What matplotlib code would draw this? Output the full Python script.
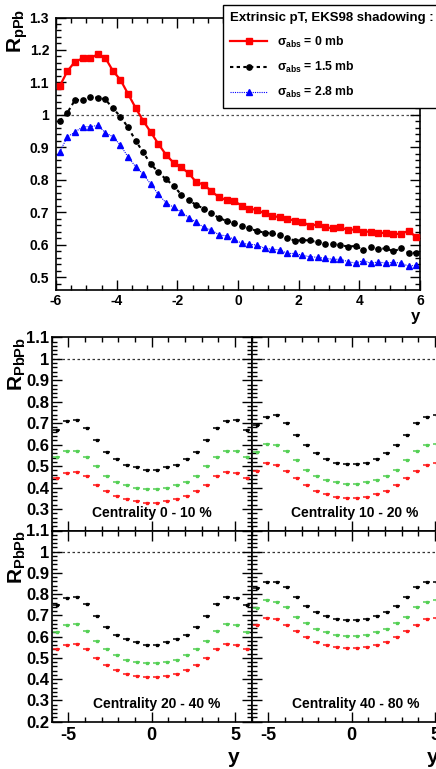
import matplotlib
matplotlib.use("Agg")
import matplotlib.pyplot as plt
from matplotlib.ticker import MultipleLocator, FuncFormatter

plt.rcParams['font.family'] = ['Liberation Sans', 'DejaVu Sans']
plt.rcParams['font.weight'] = 'bold'
plt.rcParams['mathtext.fontset'] = 'custom'
plt.rcParams['mathtext.rm'] = 'Liberation Sans:bold'
plt.rcParams['mathtext.it'] = 'Liberation Sans:bold'
plt.rcParams['mathtext.bf'] = 'Liberation Sans:bold'
plt.rcParams['mathtext.sf'] = 'Liberation Sans:bold'

# ---------------- data: p-Pb panel ----------------
rap_ppb = [-5.875, -5.625, -5.375, -5.125, -4.875, -4.625, -4.375, -4.125,
           -3.875, -3.625, -3.375, -3.125, -2.875, -2.625, -2.375, -2.125,
           -1.875, -1.625, -1.375, -1.125, -0.875, -0.625, -0.375, -0.125,
           0.125, 0.375, 0.625, 0.875, 1.125, 1.375, 1.625, 1.875,
           2.125, 2.375, 2.625, 2.875, 3.125, 3.375, 3.625, 3.875,
           4.125, 4.375, 4.625, 4.875, 5.125, 5.375, 5.625, 5.875]
rppb_sig0 = [1.089, 1.135, 1.164, 1.174, 1.174, 1.187, 1.176, 1.136, 1.108, 1.065,
             1.022, 0.982, 0.947, 0.911, 0.878, 0.853, 0.839, 0.821, 0.793, 0.786,
             0.765, 0.747, 0.738, 0.735, 0.721, 0.712, 0.708, 0.697, 0.690, 0.685,
             0.680, 0.675, 0.672, 0.658, 0.664, 0.655, 0.651, 0.654, 0.646, 0.648,
             0.641, 0.641, 0.637, 0.637, 0.634, 0.634, 0.644, 0.624]
rppb_sig15 = [0.982, 1.007, 1.046, 1.046, 1.055, 1.053, 1.048, 1.021, 0.995, 0.962,
              0.921, 0.885, 0.849, 0.824, 0.802, 0.783, 0.755, 0.738, 0.723, 0.712,
              0.697, 0.683, 0.674, 0.668, 0.658, 0.651, 0.643, 0.638, 0.636, 0.630,
              0.622, 0.613, 0.615, 0.614, 0.608, 0.603, 0.603, 0.600, 0.595, 0.597,
              0.585, 0.593, 0.587, 0.590, 0.580, 0.590, 0.576, 0.576]
rppb_sig28 = [0.887, 0.933, 0.947, 0.964, 0.964, 0.968, 0.946, 0.933, 0.907, 0.871,
              0.841, 0.818, 0.787, 0.756, 0.730, 0.716, 0.702, 0.684, 0.670, 0.654,
              0.646, 0.631, 0.628, 0.617, 0.605, 0.602, 0.600, 0.590, 0.587, 0.585,
              0.574, 0.574, 0.568, 0.564, 0.562, 0.559, 0.556, 0.556, 0.549, 0.544,
              0.552, 0.544, 0.548, 0.544, 0.547, 0.544, 0.535, 0.538]
legend_title = "Extrinsic pT, EKS98 shadowing :"
legend_labels = [r"$\sigma_{abs}$ = 0 mb", r"$\sigma_{abs}$ = 1.5 mb", r"$\sigma_{abs}$ = 2.8 mb"]

# ---------------- data: Pb-Pb panels ----------------
rap_pbpb = [-5.7, -5.1, -4.5, -3.9, -3.3, -2.7, -2.1, -1.5, -0.9, -0.3,
            0.3, 0.9, 1.5, 2.1, 2.7, 3.3, 3.9, 4.5, 5.1, 5.7]
centrality_labels = ["Centrality 0 - 10 %", "Centrality 10 - 20 %",
                     "Centrality 20 - 40 %", "Centrality 40 - 80 %"]
c0_10_black = [0.669, 0.708, 0.713, 0.677, 0.622, 0.567, 0.533, 0.507, 0.494, 0.483,
               0.483, 0.494, 0.507, 0.533, 0.567, 0.622, 0.677, 0.708, 0.713, 0.669]
c0_10_green = [0.541, 0.569, 0.570, 0.541, 0.499, 0.455, 0.428, 0.413, 0.400, 0.393,
               0.393, 0.400, 0.413, 0.428, 0.455, 0.499, 0.541, 0.570, 0.569, 0.541]
c0_10_red = [0.444, 0.470, 0.474, 0.452, 0.413, 0.382, 0.361, 0.346, 0.338, 0.330,
             0.330, 0.338, 0.346, 0.361, 0.382, 0.413, 0.452, 0.474, 0.470, 0.444]
c10_20_black = [0.692, 0.730, 0.736, 0.703, 0.647, 0.596, 0.560, 0.533, 0.514, 0.510,
                0.510, 0.514, 0.533, 0.560, 0.596, 0.647, 0.703, 0.730, 0.736, 0.692]
c10_20_green = [0.564, 0.602, 0.599, 0.572, 0.529, 0.484, 0.455, 0.435, 0.424, 0.416,
                0.416, 0.424, 0.435, 0.455, 0.484, 0.529, 0.572, 0.599, 0.602, 0.564]
c10_20_red = [0.479, 0.513, 0.505, 0.479, 0.444, 0.411, 0.385, 0.369, 0.358, 0.353,
              0.353, 0.358, 0.369, 0.385, 0.411, 0.444, 0.479, 0.505, 0.513, 0.479]
c20_40_black = [0.749, 0.783, 0.786, 0.753, 0.697, 0.645, 0.607, 0.587, 0.573, 0.562,
                0.563, 0.574, 0.587, 0.607, 0.645, 0.697, 0.753, 0.786, 0.783, 0.749]
c20_40_green = [0.623, 0.654, 0.659, 0.626, 0.580, 0.542, 0.514, 0.492, 0.483, 0.475,
                0.475, 0.483, 0.492, 0.514, 0.542, 0.580, 0.626, 0.659, 0.654, 0.623]
c20_40_red = [0.540, 0.561, 0.564, 0.540, 0.502, 0.469, 0.442, 0.426, 0.417, 0.412,
              0.412, 0.417, 0.426, 0.442, 0.469, 0.502, 0.540, 0.564, 0.561, 0.540]
c40_80_black = [0.827, 0.856, 0.857, 0.833, 0.785, 0.745, 0.717, 0.697, 0.683, 0.681,
                0.681, 0.683, 0.697, 0.717, 0.745, 0.785, 0.833, 0.857, 0.856, 0.827]
c40_80_green = [0.736, 0.772, 0.763, 0.739, 0.693, 0.664, 0.637, 0.620, 0.607, 0.602,
                0.602, 0.607, 0.620, 0.637, 0.664, 0.693, 0.739, 0.763, 0.772, 0.736]
c40_80_red = [0.653, 0.689, 0.684, 0.654, 0.629, 0.598, 0.574, 0.560, 0.550, 0.546,
              0.546, 0.550, 0.560, 0.574, 0.598, 0.629, 0.654, 0.684, 0.689, 0.653]

W, H = 436, 769
fig = plt.figure(figsize=(W / 100, H / 100), dpi=100)


def fx(px):
    return px / W


def fy(py):
    return 1 - py / H


gfmt = FuncFormatter(lambda v, p: "%g" % round(v, 3))

# ---------------- top panel ----------------
ax = fig.add_axes([fx(56), fy(290), fx(420 - 56), (290 - 17.5) / H])
ax.set_xlim(-6, 6)
ax.set_ylim(0.4615, 1.3)
ax.axhline(1.0, color='0.3', lw=0.9, ls=(0, (2, 2)), zorder=1)
l1, = ax.plot(rap_ppb, rppb_sig0, color='#ff0000', lw=1.6, marker='s', ms=4.4,
              mec='#ff0000', label=legend_labels[0], zorder=4)
l2, = ax.plot(rap_ppb, rppb_sig15, color='black', lw=1.5, ls=(0, (1.6, 1.6)),
              marker='o', ms=3.8, label=legend_labels[1], zorder=3)
l3, = ax.plot(rap_ppb, rppb_sig28, color='#0000ff', lw=0.8, ls=(0, (1, 1)),
              marker='^', ms=3.8, label=legend_labels[2], zorder=2)
ax.xaxis.set_major_locator(MultipleLocator(2))
ax.xaxis.set_minor_locator(MultipleLocator(0.5))
ax.yaxis.set_major_locator(MultipleLocator(0.1))
ax.yaxis.set_minor_locator(MultipleLocator(0.02))
ax.yaxis.set_major_formatter(gfmt)
ax.xaxis.set_major_formatter(gfmt)
ax.tick_params(which='both', direction='in', top=True, right=True, width=1)
ax.tick_params(which='major', length=7, labelsize=10)
ax.tick_params(which='minor', length=3.5)
ax.tick_params(axis='y', pad=5)
ax.tick_params(axis='x', pad=3)
for s in ax.spines.values():
    s.set_linewidth(1.2)
fig.text(fx(415), fy(316), "y", ha='center', va='center', fontsize=12, fontweight='bold')
fig.text(fx(17.5), fy(9), r"R$_{pPb}$", rotation=90, ha='center', va='top', fontsize=15)

leg = fig.legend(handles=[l1, l2, l3], title=legend_title, loc='upper left',
                 bbox_to_anchor=(fx(223), fy(5)), borderaxespad=0, fontsize=8.8,
                 title_fontsize=9.5, frameon=True, fancybox=False, edgecolor='black',
                 framealpha=1, handlelength=3.0, handletextpad=0.8, labelspacing=0.84,
                 borderpad=0.6, alignment='left', numpoints=1)
leg.get_frame().set_linewidth(1.0)
leg.get_title().set_fontweight('bold')

# ---------------- Pb-Pb panels ----------------
panels = [
    (c0_10_black, c0_10_green, c0_10_red),
    (c10_20_black, c10_20_green, c10_20_red),
    (c20_40_black, c20_40_green, c20_40_red),
    (c40_80_black, c40_80_green, c40_80_red),
]
left_px = [51.7, 251.7]
rows = [(337.3, 530.5), (530.5, 721.7)]
text_x = [0.0, 0.15, 0.3, 0.25]
colors = ['black', '#55d055', '#ff1a1a']

for i, (blk, grn, red) in enumerate(panels):
    r, c = divmod(i, 2)
    top, bot = rows[r]
    a = fig.add_axes([fx(left_px[c]), fy(bot), fx(200), (bot - top) / H])
    a.set_xlim(-6, 6)
    a.set_ylim(0.2, 1.1)
    a.axhline(1.0, color='0.2', lw=0.9, ls=(0, (2, 2)), zorder=1)
    for vals, col in zip((blk, grn, red), colors):
        a.errorbar(rap_pbpb, vals, xerr=0.22, fmt='s', color=col, ms=2.0,
                   elinewidth=1.1, capsize=0, zorder=3)
    a.xaxis.set_major_locator(MultipleLocator(5))
    a.xaxis.set_minor_locator(MultipleLocator(1))
    a.yaxis.set_major_locator(MultipleLocator(0.1))
    a.yaxis.set_minor_locator(MultipleLocator(0.02))
    a.yaxis.set_major_formatter(gfmt)
    a.xaxis.set_major_formatter(gfmt)
    a.tick_params(which='both', direction='in', top=True, right=True, width=1)
    a.tick_params(which='major', length=7)
    a.tick_params(which='minor', length=3.5)
    a.tick_params(axis='y', labelsize=12, pad=1.5)
    a.tick_params(axis='x', labelsize=13, pad=3.5)
    for s in a.spines.values():
        s.set_linewidth(1.2)
    if c == 1:
        a.tick_params(axis='y', labelleft=False)
    if r == 0:
        a.tick_params(axis='x', labelbottom=False)
        if c == 0:
            a.set_yticks([0.3, 0.4, 0.5, 0.6, 0.7, 0.8, 0.9, 1.0, 1.1])
            a.yaxis.set_minor_locator(MultipleLocator(0.02))
    a.text(text_x[i], 0.282, centrality_labels[i], ha='center', va='center',
           fontsize=10, fontweight='bold', zorder=5)
    if r == 1:
        a.text(((234 if c == 0 else 433) - left_px[c]) / 200, -0.185, "y",
               transform=a.transAxes, ha='center', va='center', fontsize=15,
               fontweight='bold')
    if c == 0:
        fig.text(fx(17.5), fy(top - 0.5), r"R$_{PbPb}$", rotation=90, ha='center',
                 va='top', fontsize=15)

fig.savefig("out.png", dpi=100)
